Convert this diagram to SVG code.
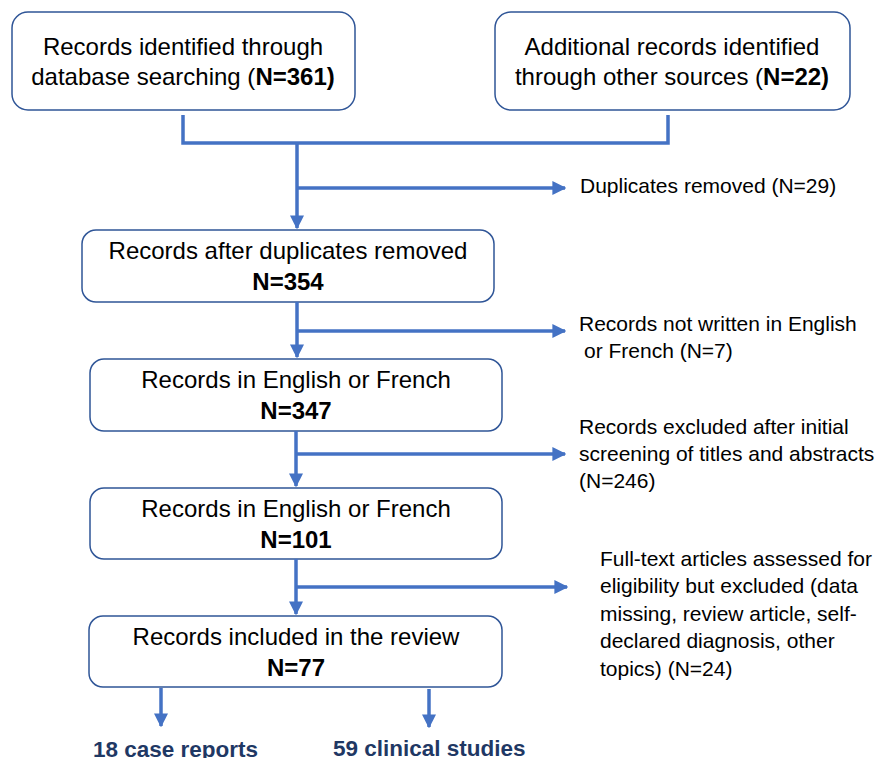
<svg xmlns="http://www.w3.org/2000/svg" width="877" height="758" viewBox="0 0 877 758">
<defs>
<marker id="ah" viewBox="0 0 10 10" refX="9" refY="5" markerWidth="4" markerHeight="4" orient="auto" markerUnits="strokeWidth">
<path d="M0,0 L10,5 L0,10 z" fill="#4472C4"/>
</marker>
<style>
.box{fill:#fff;stroke:#2F5597;stroke-width:1.5}
.t{font-family:"Liberation Sans",Arial,sans-serif;font-size:24px;fill:#000;text-anchor:middle}
.s{font-family:"Liberation Sans",Arial,sans-serif;font-size:21px;fill:#000}
.b{font-weight:bold}
.c{fill:none;stroke:#4472C4;stroke-width:3.5}
.a{fill:none;stroke:#4472C4;stroke-width:3.5;marker-end:url(#ah)}
.o{font-family:"Liberation Sans",Arial,sans-serif;font-size:22.5px;font-weight:bold;fill:#1F3864}
</style>
</defs>
<rect width="877" height="758" fill="#fff"/>
<g id="n1"><rect class="box" x="12" y="12" width="343" height="98" rx="16"/>
<text class="t" x="183" y="55">Records identified through</text>
<text class="t" x="183" y="85">database searching (<tspan class="b">N=361)</tspan></text></g>
<g id="n2"><rect class="box" x="495" y="12" width="355" height="98" rx="16"/>
<text class="t" x="672" y="55">Additional records identified</text>
<text class="t" x="672" y="85">through other sources (<tspan class="b">N=22)</tspan></text></g>
<g id="n3"><rect class="box" x="82" y="230" width="412" height="72" rx="14"/>
<text class="t" x="288" y="259">Records after duplicates removed</text>
<text class="t b" x="288" y="290">N=354</text></g>
<g id="n4"><rect class="box" x="90" y="359" width="412" height="72" rx="14"/>
<text class="t" x="296" y="388">Records in English or French</text>
<text class="t b" x="296" y="419">N=347</text></g>
<g id="n5"><rect class="box" x="90" y="488" width="412" height="71" rx="14"/>
<text class="t" x="296" y="517">Records in English or French</text>
<text class="t b" x="296" y="548">N=101</text></g>
<g id="n6"><rect class="box" x="89" y="616" width="413" height="71" rx="14"/>
<text class="t" x="296" y="645">Records included in the review</text>
<text class="t b" x="296" y="676">N=77</text></g>
<g id="e1"><text class="s" x="580" y="193">Duplicates removed (N=29)</text></g>
<g id="e2"><text class="s" x="579" y="331">Records not written in English</text>
<text class="s" x="584" y="358">or French (N=7)</text></g>
<g id="e3"><text class="s" x="579" y="434">Records excluded after initial</text>
<text class="s" x="579" y="461">screening of titles and abstracts</text>
<text class="s" x="579" y="488">(N=246)</text></g>
<g id="e4"><text class="s" x="600" y="566">Full-text articles assessed for</text>
<text class="s" x="600" y="593">eligibility but excluded (data</text>
<text class="s" x="600" y="621">missing, review article, self-</text>
<text class="s" x="600" y="648">declared diagnosis, other</text>
<text class="s" x="600" y="676">topics) (N=24)</text></g>
<g id="o1"><text class="o" x="93" y="757">18 case reports</text></g>
<g id="o2"><text class="o" x="333" y="756">59 clinical studies</text></g>
<g id="connectors">
<path class="c" d="M183,115 V143 H668 V115"/>
<path class="a" d="M297,143 V228"/>
<path class="a" d="M297,188 H565"/>
<path class="a" d="M297,302 V357"/>
<path class="a" d="M297,331 H565"/>
<path class="a" d="M296,431 V486"/>
<path class="a" d="M296,454 H565"/>
<path class="a" d="M296,559 V614"/>
<path class="a" d="M296,587 H567"/>
<path class="a" d="M161,688 V726"/>
<path class="a" d="M429,689 V727"/>
</g>
</svg>
